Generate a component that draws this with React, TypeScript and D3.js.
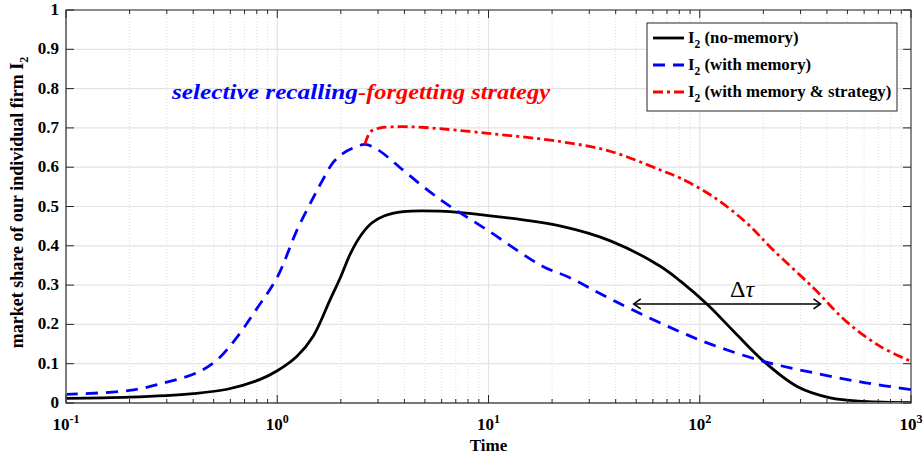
import * as d3 from "d3";
import { useEffect, useRef } from "react";

// I2 without memory
const noMemoryTime = [0.1, 0.2, 0.4, 0.58, 0.83, 1, 1.24, 1.48, 1.78, 2, 2.22, 2.5, 2.8, 3.2, 3.95, 5.9, 10, 22, 38, 65, 81, 109, 145, 201, 289, 415, 600, 1000];
const noMemoryShare = [0.012, 0.015, 0.024, 0.035, 0.06, 0.082, 0.119, 0.17, 0.263, 0.322, 0.38, 0.428, 0.458, 0.476, 0.487, 0.488, 0.477, 0.45, 0.412, 0.348, 0.31, 0.25, 0.182, 0.106, 0.042, 0.013, 0.004, 0.001];

// I2 with memory
const memoryTime = [0.1, 0.2, 0.3, 0.42, 0.52, 0.64, 0.8, 1, 1.24, 1.46, 1.62, 1.84, 2.05, 2.27, 2.6, 2.96, 3.4, 3.83, 5.9, 10, 18, 24, 40, 80, 115, 200, 345, 600, 1000];
const memoryShare = [0.022, 0.032, 0.053, 0.078, 0.11, 0.165, 0.24, 0.32, 0.44, 0.516, 0.562, 0.612, 0.635, 0.648, 0.658, 0.646, 0.622, 0.598, 0.518, 0.438, 0.348, 0.32, 0.258, 0.182, 0.148, 0.106, 0.077, 0.052, 0.034];

// I2 with memory & strategy (branches off at the memory peak)
const strategyTime = [2.6, 2.76, 3.07, 3.83, 5, 10, 22, 38, 65, 81, 115, 166, 222, 345, 495, 715, 1000];
const strategyShare = [0.658, 0.69, 0.7, 0.703, 0.701, 0.686, 0.665, 0.64, 0.593, 0.572, 0.526, 0.459, 0.39, 0.293, 0.207, 0.144, 0.106];

const yTicks = [0, 0.1, 0.2, 0.3, 0.4, 0.5, 0.6, 0.7, 0.8, 0.9, 1];
const yTickLabels = ["0", "0.1", "0.2", "0.3", "0.4", "0.5", "0.6", "0.7", "0.8", "0.9", "1"];
const xExponents = [-1, 0, 1, 2, 3];

const legendLabels = ["(no-memory)", "(with memory)", "(with memory & strategy)"];
const seriesColors = ["#000000", "#0000ff", "#ff0000"];
const seriesDashes = ["none", "12,8", "10,4,3,4"];

const deltaTauSpan = [48.7, 373];
const deltaTauLevel = 0.252;

const dimensions = { width: 924, height: 455 };
const margin = { top: 10, right: 13, bottom: 52, left: 66 };
const serif = '"Liberation Serif", "Times New Roman", Times, "DejaVu Serif", serif';

const App = () => {
    const svgRef = useRef<SVGSVGElement | null>(null);

    useEffect(() => {
        const svg = d3.select(svgRef.current);
        svg.selectAll("*").remove();

        const x = d3
            .scaleLog()
            .domain([0.1, 1000])
            .range([margin.left, dimensions.width - margin.right]);
        const y = d3
            .scaleLinear()
            .domain([0, 1])
            .range([dimensions.height - margin.bottom, margin.top]);

        const [x0, x1] = x.range();
        const [y0, y1] = y.range();

        svg.append("rect")
            .attr("width", dimensions.width)
            .attr("height", dimensions.height)
            .attr("fill", "#fff");

        // minor log ticks 2..9 per decade
        const minorTicks: number[] = [];
        xExponents.slice(0, -1).forEach((e) => {
            for (let k = 2; k <= 9; k++) minorTicks.push(k * Math.pow(10, e));
        });
        const majorTicks = xExponents.map((e) => Math.pow(10, e));

        const grid = svg.append("g");
        grid.selectAll(".minor")
            .data(minorTicks)
            .join("line")
            .attr("x1", (d) => x(d))
            .attr("x2", (d) => x(d))
            .attr("y1", y0)
            .attr("y2", y1)
            .attr("stroke", "#d4d4d4")
            .attr("stroke-width", 0.8)
            .attr("stroke-dasharray", "1,2");
        grid.selectAll(".majorx")
            .data(majorTicks)
            .join("line")
            .attr("x1", (d) => x(d))
            .attr("x2", (d) => x(d))
            .attr("y1", y0)
            .attr("y2", y1)
            .attr("stroke", "#e3e3e3")
            .attr("stroke-width", 1.2);
        grid.selectAll(".majory")
            .data(yTicks)
            .join("line")
            .attr("x1", x0)
            .attr("x2", x1)
            .attr("y1", (d) => y(d))
            .attr("y2", (d) => y(d))
            .attr("stroke", "#e3e3e3")
            .attr("stroke-width", 1.2);

        // curves
        const series = [
            { time: noMemoryTime, share: noMemoryShare },
            { time: memoryTime, share: memoryShare },
            { time: strategyTime, share: strategyShare },
        ];
        const line = d3
            .line<[number, number]>()
            .x((d) => x(d[0]))
            .y((d) => y(d[1]))
            .curve(d3.curveCatmullRom.alpha(0.5));

        series.forEach((s, i) => {
            svg.append("path")
                .datum(s.time.map((t, j) => [t, s.share[j]] as [number, number]))
                .attr("d", line)
                .attr("fill", "none")
                .attr("stroke", seriesColors[i])
                .attr("stroke-width", 2.8)
                .attr("stroke-dasharray", seriesDashes[i]);
        });

        // axes box + inward ticks
        const axes = svg.append("g").attr("stroke", "#262626");
        axes.append("rect")
            .attr("x", x0)
            .attr("y", y1)
            .attr("width", x1 - x0)
            .attr("height", y0 - y1)
            .attr("fill", "none")
            .attr("stroke-width", 1);
        axes.append("line")
            .attr("x1", x0).attr("x2", x1)
            .attr("y1", y0).attr("y2", y0)
            .attr("stroke", "#777").attr("stroke-width", 2);
        axes.append("line")
            .attr("x1", x0).attr("x2", x0)
            .attr("y1", y0).attr("y2", y1)
            .attr("stroke", "#777").attr("stroke-width", 1.5);

        yTicks.forEach((t) => {
            axes.append("line").attr("x1", x0).attr("x2", x0 + 8).attr("y1", y(t)).attr("y2", y(t));
            axes.append("line").attr("x1", x1).attr("x2", x1 - 8).attr("y1", y(t)).attr("y2", y(t));
        });
        majorTicks.forEach((t) => {
            axes.append("line").attr("x1", x(t)).attr("x2", x(t)).attr("y1", y0).attr("y2", y0 - 8);
            axes.append("line").attr("x1", x(t)).attr("x2", x(t)).attr("y1", y1).attr("y2", y1 + 8);
        });
        minorTicks.forEach((t) => {
            axes.append("line").attr("x1", x(t)).attr("x2", x(t)).attr("y1", y0).attr("y2", y0 - 4);
            axes.append("line").attr("x1", x(t)).attr("x2", x(t)).attr("y1", y1).attr("y2", y1 + 4);
        });

        // tick labels
        svg.append("g")
            .selectAll("text")
            .data(yTicks)
            .join("text")
            .attr("x", x0 - 7)
            .attr("y", (d) => y(d) + 5)
            .attr("text-anchor", "end")
            .style("font-family", serif)
            .attr("font-weight", "bold")
            .attr("font-size", 17)
            .text((_, i) => yTickLabels[i]);

        const xLabels = svg.append("g")
            .selectAll("text")
            .data(xExponents)
            .join("text")
            .attr("x", (d) => x(Math.pow(10, d)))
            .attr("y", y0 + 27)
            .attr("text-anchor", "middle")
            .style("font-family", serif)
            .attr("font-weight", "bold")
            .attr("font-size", 17);
        xLabels.append("tspan").text("10");
        xLabels.append("tspan").attr("dy", -7).attr("font-size", 12).text((d) => String(d));

        svg.append("text")
            .attr("x", (x0 + x1) / 2)
            .attr("y", 451)
            .attr("text-anchor", "middle")
            .style("font-family", serif)
            .attr("font-weight", "bold")
            .attr("font-size", 17)
            .text("Time");

        const yLabel = svg.append("text")
            .attr("transform", `translate(23, ${(y0 + y1) / 2 - 4}) rotate(-90)`)
            .attr("text-anchor", "middle")
            .style("font-family", serif)
            .attr("font-weight", "bold")
            .attr("font-size", 18);
        yLabel.append("tspan").text("market share of our individual firm I");
        yLabel.append("tspan").attr("dy", 5).attr("font-size", 12).text("2");

        // annotation
        const note = svg.append("g")
            .style("font-family", serif)
            .attr("font-weight", "bold")
            .attr("font-style", "italic")
            .attr("font-size", 21);
        note.append("text")
            .attr("x", 172)
            .attr("y", 99)
            .attr("fill", "#0000ff")
            .attr("textLength", 186)
            .attr("lengthAdjust", "spacingAndGlyphs")
            .text("selective recalling");
        note.append("text")
            .attr("x", 358)
            .attr("y", 99)
            .attr("fill", "#ff0000")
            .attr("textLength", 192)
            .attr("lengthAdjust", "spacingAndGlyphs")
            .text("-forgetting strategy");

        // delta tau arrow
        const ax0 = x(deltaTauSpan[0]);
        const ax1 = x(deltaTauSpan[1]);
        const ay = y(deltaTauLevel);
        const arrow = svg.append("g")
            .attr("stroke", "#000")
            .attr("stroke-width", 1.6)
            .attr("fill", "none");
        arrow.append("line").attr("x1", ax0).attr("x2", ax1).attr("y1", ay).attr("y2", ay);
        arrow.append("path").attr("d", `M${ax0 + 7},${ay - 5} L${ax0},${ay} L${ax0 + 7},${ay + 5}`);
        arrow.append("path").attr("d", `M${ax1 - 7},${ay - 5} L${ax1},${ay} L${ax1 - 7},${ay + 5}`);

        const tau = svg.append("text")
            .attr("x", (ax0 + ax1) / 2 + 15)
            .attr("y", ay - 7)
            .attr("text-anchor", "middle")
            .style("font-family", serif)
            .attr("font-size", 24);
        tau.append("tspan").text("Δ");
        tau.append("tspan").attr("font-style", "italic").text("τ");

        // legend
        const legend = svg.append("g");
        legend.append("rect")
            .attr("x", 647)
            .attr("y", 23)
            .attr("width", 250)
            .attr("height", 88)
            .attr("fill", "#fff")
            .attr("stroke", "#262626")
            .attr("stroke-width", 1);
        legendLabels.forEach((label, i) => {
            const ly = 38 + i * 27;
            legend.append("line")
                .attr("x1", 653)
                .attr("x2", 684)
                .attr("y1", ly)
                .attr("y2", ly)
                .attr("stroke", seriesColors[i])
                .attr("stroke-width", 2.8)
                .attr("stroke-dasharray", seriesDashes[i]);
            const t = legend.append("text")
                .attr("x", 688)
                .attr("y", ly + 5)
                .style("font-family", serif)
                .attr("font-weight", "bold")
                .attr("font-size", 16.8);
            t.append("tspan").text("I");
            t.append("tspan").attr("dy", 5).attr("font-size", 11.5).text("2");
            t.append("tspan").attr("dy", -5).text(" " + label);
        });
    }, []);

    return (
        <svg
            ref={svgRef}
            width={dimensions.width}
            height={dimensions.height}
            style={{ position: "absolute", left: 0, top: 0 }}
        />
    );
};

export default App;
